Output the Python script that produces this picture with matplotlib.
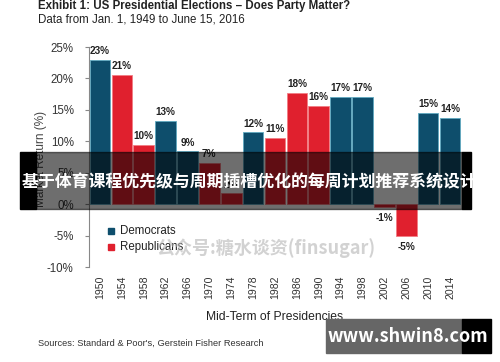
import matplotlib.pyplot as plt
from matplotlib.patches import Rectangle

plt.rcParams['font.family'] = ['Liberation Sans', 'Noto Sans CJK SC', 'DejaVu Sans']

# data
years = ["1950", "1954", "1958", "1962", "1966", "1970", "1974", "1978", "1982",
         "1986", "1990", "1994", "1998", "2002", "2006", "2010", "2014"]
returns = [23.0, 20.6, 9.4, 13.3, 8.4, 6.6, 1.7, 11.4, 10.6,
           17.7, 15.6, 17.1, 17.1, -0.4, -5.1, 14.5, 13.7]
labels = ["23%", "21%", "10%", "13%", "9%", "7%", "2%", "12%", "11%",
          "18%", "16%", "17%", "17%", "-1%", "-5%", "15%", "14%"]
party = ["D", "R", "R", "D", "D", "R", "R", "D", "R",
         "R", "R", "D", "D", "R", "R", "D", "D"]

dem_col = "#0e4e6c"
rep_col = "#e0202e"
colors = [dem_col if p == "D" else rep_col for p in party]
edges = ["#5fa9c0" if p == "D" else "#f27c84" for p in party]

W, H = 500, 362
fig = plt.figure(figsize=(5, 3.62), dpi=100)
ax = fig.add_axes([89 / W, 1 - 267 / H, 372 / W, 220 / H])

x = list(range(len(years)))
ax.bar(x, returns, width=0.94, color=colors, edgecolor=edges, linewidth=0.6)

for i, (v, lab) in enumerate(zip(returns, labels)):
    if v >= 0:
        ax.text(i, v + 0.6, lab, ha="center", va="bottom", fontsize=7.2,
                fontweight="bold", color="#222222")
    else:
        ax.text(i, v - 1.0, lab, ha="center", va="top", fontsize=7.2,
                fontweight="bold", color="#222222")

ax.set_xlim(-0.5, len(years) - 0.5)
ax.set_ylim(-10, 25)
ax.set_yticks(range(-10, 30, 5))
ax.set_yticklabels([f"{t}%" for t in range(-10, 30, 5)], fontsize=8.3, color="#333333")
ax.set_xticks(x)
ax.set_xticklabels(years, rotation=90, fontsize=7.6, color="#333333")
ax.tick_params(axis="x", length=0, pad=6)
ax.tick_params(axis="y", length=3, color="#888888", pad=8)
for s in ["top", "right", "bottom"]:
    ax.spines[s].set_visible(False)
ax.spines["left"].set_color("#888888")
ax.spines["left"].set_linewidth(0.8)

ax.set_ylabel("Market Return (%)", fontsize=8.5, color="#444444")
ax.yaxis.set_label_coords(-0.112, 0.49)
ax.set_xlabel("Mid-Term of Presidencies", fontsize=8.7, color="#222222", labelpad=9)

# legend drawn as squares + text
fig.patches.append(Rectangle((108 / W, 1 - 234 / H), 6 / W, 6 / H, transform=fig.transFigure,
                             color=dem_col))
fig.patches.append(Rectangle((108 / W, 1 - 250 / H), 6 / W, 6 / H, transform=fig.transFigure,
                             color=rep_col))
fig.text(120 / W, 1 - 231 / H, "Democrats", fontsize=8.3, va="center", color="#222222")
fig.text(120 / W, 1 - 247 / H, "Republicans", fontsize=8.3, va="center", color="#222222")

# titles and source
fig.text(38 / W, 1 - 6 / H, "Exhibit 1: US Presidential Elections \u2013 Does Party Matter?",
         fontsize=8.3, fontweight="bold", va="center", color="#222222")
fig.text(38 / W, 1 - 20 / H, "Data from Jan. 1, 1949 to June 15, 2016",
         fontsize=8.3, va="center", color="#222222")
fig.text(38 / W, 1 - 343 / H, "Sources: Standard & Poor's, Gerstein Fisher Research",
         fontsize=6.7, va="center", color="#333333")

# watermark
fig.text(266 / W, 1 - 248 / H, "公众号:糖水谈资(finsugar)", fontsize=13, fontweight="bold",
         ha="center", va="center", color="#b5b5b5", alpha=0.6,
         family=["Noto Sans CJK SC", "DejaVu Sans"])

# banner overlay
fig.patches.append(Rectangle((36 / W, 1 - 209 / H), 426 / W, 57 / H, transform=fig.transFigure,
                             color="black", alpha=0.57, zorder=10))
fig.patches.append(Rectangle((20 / W, 1 - 209 / H), 16 / W, 57 / H, transform=fig.transFigure,
                             color="black", zorder=10))
fig.patches.append(Rectangle((462 / W, 1 - 209 / H), 9 / W, 57 / H, transform=fig.transFigure,
                             color="black", zorder=10))
fig.text(249 / W, 1 - 182 / H, "基于体育课程优先级与周期插槽优化的每周计划推荐系统设计",
         fontsize=12.2, fontweight="bold", ha="center", va="center", color="white",
         zorder=11, family=["Noto Sans CJK SC", "DejaVu Sans"])

# site box
fig.patches.append(Rectangle((326 / W, 1 - 353 / H), 136 / W, 34 / H, transform=fig.transFigure,
                             color="#666666", zorder=10))
fig.patches.append(Rectangle((462 / W, 1 - 353 / H), 29 / W, 34 / H, transform=fig.transFigure,
                             color="black", zorder=10))
fig.text(408 / W, 1 - 336 / H, "www.shwin8.com", fontsize=13, fontweight="bold",
         ha="center", va="center", color="white", zorder=11,
         family=["Noto Sans CJK SC", "DejaVu Sans"])

fig.savefig("out.png", dpi=100, facecolor="white")
